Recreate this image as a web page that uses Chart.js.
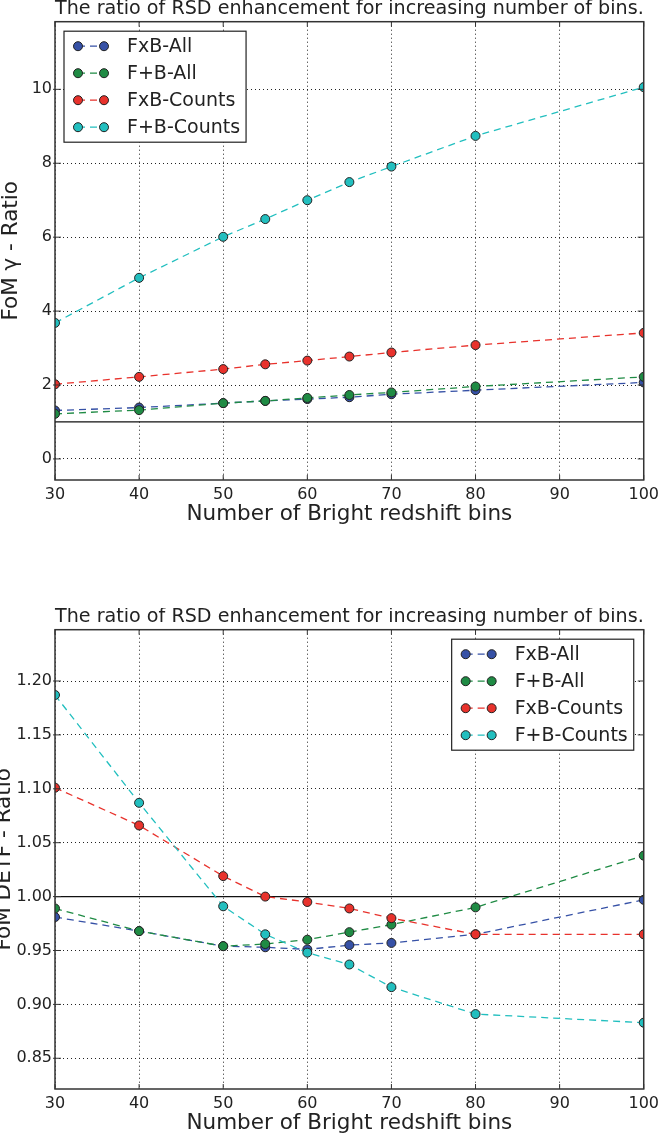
<!DOCTYPE html>
<html>
<head>
<meta charset="utf-8">
<script src="https://cdn.jsdelivr.net/npm/chart.js@4.4.1/dist/chart.umd.min.js"></script>
<style>
  html,body{margin:0;padding:0;background:#fff;}
  body{width:664px;height:1134px;position:relative;overflow:hidden;}
  .box{position:absolute;left:0;width:664px;}
  #top{top:0;height:525px;}
  #bot{top:608px;height:526px;}
</style>
</head>
<body>
<div class="box" id="top"><canvas id="gammaChart"></canvas></div>
<div class="box" id="bot"><canvas id="detfChart"></canvas></div>
<script>
// x: number of bright redshift bins
const bins=[30,40,50,55,60,65,70,80,100];
const xTicks=[30,40,50,60,70,80,90,100];
const seriesNames=["FxB-All","F+B-All","FxB-Counts","F+B-Counts"];
const seriesColors=["#3651a6","#1f8b44","#e8322c","#22bfbf"];

// FoM gamma ratio (top panel)
const gammaFxBAll=[1.31,1.39,1.51,1.57,1.62,1.67,1.75,1.86,2.07];
const gammaFpBAll=[1.22,1.32,1.51,1.57,1.65,1.73,1.80,1.96,2.22];
const gammaFxBCounts=[2.02,2.22,2.43,2.56,2.66,2.77,2.88,3.08,3.41];
const gammaFpBCounts=[3.68,4.90,6.01,6.49,7.00,7.49,7.91,8.74,10.06];
const gammaTicks=[0,2,4,6,8,10];

// FoM DETF ratio (bottom panel)
const detfFxBAll=[0.981,0.968,0.954,0.953,0.951,0.955,0.957,0.965,0.997];
const detfFpBAll=[0.989,0.968,0.954,0.956,0.960,0.967,0.974,0.990,1.038];
const detfFxBCounts=[1.101,1.066,1.019,1.000,0.995,0.989,0.980,0.965,0.965];
const detfFpBCounts=[1.187,1.087,0.991,0.965,0.948,0.937,0.916,0.891,0.883];
const detfTicks=[0.85,0.90,0.95,1.00,1.05,1.10,1.15,1.20];

const refValue=1;
const FONT="'DejaVu Sans', sans-serif";
const TITLE="The ratio of RSD enhancement for increasing number of bins.";

const refLine={
  id:"refLine",
  beforeDatasetsDraw(chart){
    const {ctx,chartArea}=chart;
    const y=chart.scales.y.getPixelForValue(refValue);
    ctx.save();
    ctx.strokeStyle="#111"; ctx.lineWidth=1.3;
    ctx.beginPath(); ctx.moveTo(chartArea.left,y); ctx.lineTo(chartArea.right,y); ctx.stroke();
    ctx.restore();
  }
};

const frame={
  id:"frame",
  afterDatasetsDraw(chart){
    const {ctx,chartArea:a}=chart;
    ctx.save();
    ctx.strokeStyle="#333"; ctx.lineWidth=1;
    chart.scales.x.ticks.forEach(t=>{
      const px=chart.scales.x.getPixelForValue(t.value);
      ctx.beginPath();
      ctx.moveTo(px,a.bottom); ctx.lineTo(px,a.bottom-5);
      ctx.moveTo(px,a.top); ctx.lineTo(px,a.top+5);
      ctx.stroke();
    });
    chart.scales.y.ticks.forEach(t=>{
      const py=chart.scales.y.getPixelForValue(t.value);
      ctx.beginPath();
      ctx.moveTo(a.left-2,py); ctx.lineTo(a.left+6,py);
      ctx.moveTo(a.right,py); ctx.lineTo(a.right-6,py);
      ctx.stroke();
    });
    ctx.lineWidth=1.5;
    ctx.strokeRect(a.left,a.top,a.right-a.left,a.bottom-a.top);
    ctx.restore();
  }
};

const mplLegend={
  id:"mplLegend",
  afterDraw(chart,args,opts){
    const {ctx,chartArea}=chart;
    ctx.save();
    ctx.font=opts.fontSize+"px "+FONT;
    const sets=chart.data.datasets;
    const textW=Math.max(...sets.map(d=>ctx.measureText(d.label).width));
    const w=63+textW+6, h=30+27*(sets.length-1);
    const x=opts.corner==="left"?chartArea.left+9:chartArea.right-10-w;
    const y=chartArea.top+9.5;
    ctx.fillStyle="#fff"; ctx.fillRect(x,y,w,h);
    ctx.lineWidth=1.2; ctx.strokeStyle="#222"; ctx.strokeRect(x,y,w,h);
    sets.forEach((d,i)=>{
      const cy=y+15+27*i;
      ctx.setLineDash(d.borderDash); ctx.strokeStyle=d.borderColor; ctx.lineWidth=d.borderWidth;
      ctx.beginPath(); ctx.moveTo(x+14,cy); ctx.lineTo(x+40,cy); ctx.stroke();
      ctx.setLineDash([]);
      [x+14,x+40].forEach(cx=>{
        ctx.beginPath(); ctx.arc(cx,cy,d.pointRadius,0,Math.PI*2);
        ctx.fillStyle=d.pointBackgroundColor; ctx.fill();
        ctx.lineWidth=1; ctx.strokeStyle="#222"; ctx.stroke();
      });
      ctx.fillStyle="#222"; ctx.textBaseline="middle"; ctx.textAlign="left";
      ctx.fillText(d.label,x+63,cy+1);
    });
    ctx.restore();
  }
};

function makeDatasets(series){
  return series.map((vals,i)=>({
    label:seriesNames[i],
    data:bins.map((b,j)=>({x:b,y:vals[j]})),
    borderColor:seriesColors[i],
    backgroundColor:seriesColors[i],
    pointBackgroundColor:seriesColors[i],
    pointBorderColor:"#222",
    pointBorderWidth:1,
    pointRadius:4.5,
    borderWidth:1.3,
    borderDash:[7,5],
    tension:0,
    clip:0,
    order:series.length-i
  }));
}

function makeOptions(yMin,yMax,yTicks,yTitle,yTitlePadTop,fmt,corner){
  return {
    responsive:true, maintainAspectRatio:false, animation:false,
    layout:{padding:{left:0,right:16,top:0,bottom:0}},
    plugins:{
      legend:{display:false}, tooltip:{enabled:false},
      title:{display:true,text:TITLE,fullSize:false,color:"#222",
        font:{family:FONT,size:19.6,weight:"normal",lineHeight:1.0},padding:{top:-1,bottom:3.1}},
      mplLegend:{corner:corner,fontSize:19}
    },
    scales:{
      x:{type:"linear",min:30,max:100,
        afterBuildTicks:s=>{s.ticks=xTicks.map(v=>({value:v}));},
        afterFit:s=>{s.height=45;},
        ticks:{color:"#222",font:{family:FONT,size:16},padding:5,maxRotation:0},
        grid:{color:"#222",lineWidth:1,drawTicks:false},
        border:{display:false,dash:[1,3]},
        title:{display:true,text:"Number of Bright redshift bins",color:"#222",
          font:{family:FONT,size:21.5,lineHeight:1.0},padding:{top:0,bottom:0}}
      },
      y:{type:"linear",min:yMin,max:yMax,
        afterBuildTicks:s=>{s.ticks=yTicks.map(v=>({value:v}));},
        afterFit:s=>{s.width=55;},
        ticks:{color:"#222",font:{family:FONT,size:16},padding:3,callback:fmt},
        grid:{color:"#222",lineWidth:1,drawTicks:false},
        border:{display:false,dash:[1,3]},
        title:{display:true,text:yTitle,color:"#222",
          font:{family:FONT,size:21.5,lineHeight:1.2},padding:{top:yTitlePadTop,bottom:0}}
      }
    }
  };
}

new Chart(document.getElementById("gammaChart"),{
  type:"line",
  data:{datasets:makeDatasets([gammaFxBAll,gammaFpBAll,gammaFxBCounts,gammaFpBCounts])},
  options:makeOptions(-0.57,11.83,gammaTicks,"FoM \u03b3 - Ratio",-1,v=>String(v),"left"),
  plugins:[refLine,frame,mplLegend]
});

new Chart(document.getElementById("detfChart"),{
  type:"line",
  data:{datasets:makeDatasets([detfFxBAll,detfFpBAll,detfFxBCounts,detfFpBCounts])},
  options:makeOptions(0.8215,1.2476,detfTicks,"FoM DETF - Ratio",-8,v=>v.toFixed(2),"right"),
  plugins:[refLine,frame,mplLegend]
});
</script>
</body>
</html>
